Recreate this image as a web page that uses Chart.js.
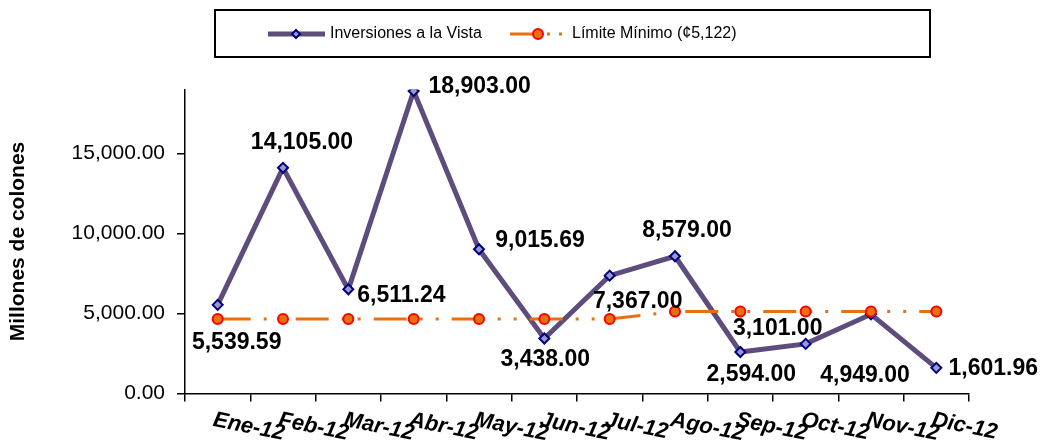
<!DOCTYPE html>
<html>
<head>
<meta charset="utf-8">
<script src="https://cdn.jsdelivr.net/npm/chart.js@4"></script>
<style>
  body { margin: 0; background: #fff; }
</style>
</head>
<body>
<canvas id="chart" width="1054" height="447"></canvas>
<script>
// data
const months = ['Ene-12', 'Feb-12', 'Mar-12', 'Abr-12', 'May-12', 'Jun-12',
                'Jul-12', 'Ago-12', 'Sep-12', 'Oct-12', 'Nov-12', 'Dic-12'];
const inversiones = [5539.59, 14105.00, 6511.24, 18903.00, 9015.69, 3438.00,
                     7367.00, 8579.00, 2594.00, 3101.00, 4949.00, 1601.96];
const limiteMinimo = [4650, 4650, 4650, 4650, 4650, 4650,
                      4650, 5122, 5122, 5122, 5122, 5122];
const yTicks = [0, 5000, 10000, 15000];

// where each value label sits, relative to its point (px)
const labelOffsets = [[19, 38], [19, -25], [53, 6], [66, -4], [61, -9], [1, 21],
                      [28, 26], [12, -26], [11, 23], [-28, -15], [-6, 61], [57, 1]];

const PURPLE = '#5E4C7D';
const ORANGE = '#E8700E';
const fmt = v => v.toLocaleString('en-US', { minimumFractionDigits: 2, maximumFractionDigits: 2 });

const extras = {
  id: 'extras',
  afterDraw(chart) {
    const ctx = chart.ctx;
    const x = chart.scales.x;
    const meta = chart.getDatasetMeta(0);

    // value labels
    ctx.save();
    ctx.font = 'bold 23px "Liberation Sans", Arial, sans-serif';
    ctx.fillStyle = '#000';
    ctx.textAlign = 'center';
    ctx.textBaseline = 'middle';
    meta.data.forEach((pt, i) => {
      const o = labelOffsets[i];
      ctx.fillText(fmt(inversiones[i]), pt.x + o[0], pt.y + o[1]);
    });
    ctx.restore();

    // slanted month labels
    ctx.save();
    ctx.font = 'italic bold 22px "Liberation Sans", Arial, sans-serif';
    ctx.fillStyle = '#000';
    ctx.textAlign = 'left';
    ctx.textBaseline = 'top';
    months.forEach((m, i) => {
      ctx.save();
      ctx.translate(x.getPixelForValue(i) - 2, x.bottom - 38);
      ctx.rotate(0.2);
      ctx.fillText(m, 0, 0);
      ctx.restore();
    });
    ctx.restore();

    // legend box
    ctx.save();
    ctx.strokeStyle = '#000';
    ctx.lineWidth = 2;
    ctx.strokeRect(215, 10, 715, 47);
    const ly = 34;
    ctx.strokeStyle = PURPLE;
    ctx.lineWidth = 5;
    ctx.beginPath(); ctx.moveTo(268, ly); ctx.lineTo(325, ly); ctx.stroke();
    ctx.fillStyle = '#9999CC';
    ctx.strokeStyle = '#000080';
    ctx.lineWidth = 2;
    ctx.beginPath();
    ctx.moveTo(296, ly - 4); ctx.lineTo(300, ly); ctx.lineTo(296, ly + 4); ctx.lineTo(292, ly);
    ctx.closePath(); ctx.fill(); ctx.stroke();

    ctx.strokeStyle = ORANGE;
    ctx.lineWidth = 3;
    ctx.beginPath(); ctx.moveTo(510, ly); ctx.lineTo(538, ly); ctx.stroke();
    ctx.fillStyle = ORANGE;
    ctx.fillRect(547, ly - 1.5, 3, 3);
    ctx.fillRect(559, ly - 1.5, 3, 3);
    ctx.strokeStyle = '#FF0000';
    ctx.lineWidth = 2;
    ctx.beginPath(); ctx.arc(538, ly, 5, 0, Math.PI * 2); ctx.fill(); ctx.stroke();

    ctx.font = '16px "Liberation Sans", Arial, sans-serif';
    ctx.fillStyle = '#000';
    ctx.textBaseline = 'middle';
    ctx.fillText(chart.data.datasets[0].label, 330, ly);
    ctx.fillText(chart.data.datasets[1].label, 572, ly);
    ctx.restore();
  }
};

new Chart(document.getElementById('chart'), {
  type: 'line',
  data: {
    labels: months,
    datasets: [{
      label: 'Inversiones a la Vista',
      data: inversiones,
      borderColor: PURPLE,
      borderWidth: 5,
      pointStyle: 'rectRot',
      pointRadius: 5,
      pointBorderWidth: 2,
      pointBorderColor: '#000080',
      pointBackgroundColor: '#9999CC',
      tension: 0,
      order: 1
    }, {
      label: 'Límite Mínimo (¢5,122)',
      data: limiteMinimo,
      borderColor: ORANGE,
      borderWidth: 3,
      borderDash: [33, 13, 3, 13, 3, 13],
      pointStyle: 'circle',
      pointRadius: 5,
      pointBorderWidth: 2,
      pointBorderColor: '#FF0000',
      pointBackgroundColor: ORANGE,
      tension: 0,
      order: 0
    }]
  },
  options: {
    responsive: false,
    animation: false,
    layout: { padding: { top: 89.5, right: 85, left: 0, bottom: 0 } },
    plugins: {
      legend: { display: false },
      tooltip: { enabled: false }
    },
    scales: {
      x: {
        offset: true,
        grid: { offset: true, drawOnChartArea: false, drawTicks: true, tickLength: 8, color: '#000', lineWidth: 1.5 },
        border: { color: '#000', width: 1.5 },
        ticks: { display: false },
        afterFit: s => { s.height = 53.5; }
      },
      y: {
        min: 0,
        max: 19000,
        afterBuildTicks: s => { s.ticks = yTicks.map(v => ({ value: v })); },
        grid: { drawOnChartArea: false, drawTicks: true, tickLength: 8, color: '#000', lineWidth: 1.5 },
        border: { color: '#000', width: 1.5 },
        ticks: {
          color: '#000',
          padding: 12,
          font: { family: '"Liberation Sans", Arial, sans-serif', size: 21 },
          callback: v => fmt(v)
        },
        title: {
          display: true,
          text: 'Millones de colones',
          color: '#000',
          padding: { top: 6, bottom: 0 },
          font: { family: '"Liberation Sans", Arial, sans-serif', size: 21, weight: 'bold' }
        },
        afterFit: s => { s.width = 185; }
      }
    }
  },
  plugins: [extras]
});
</script>
</body>
</html>
